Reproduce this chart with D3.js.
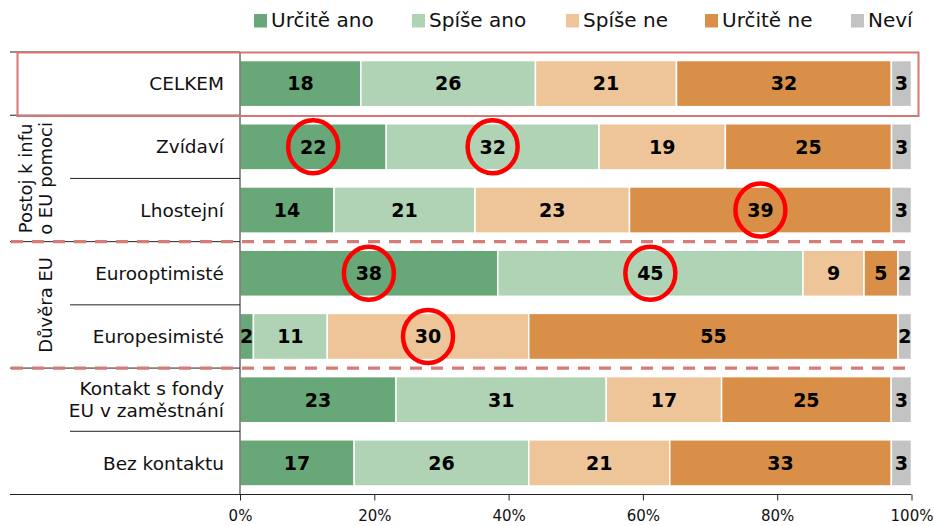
<!DOCTYPE html>
<html>
<head>
<meta charset="utf-8">
<script src="https://cdn.jsdelivr.net/npm/d3@7/dist/d3.min.js"></script>
<style>
  html, body { margin: 0; padding: 0; background: #fff; }
  svg { display: block; font-family: "DejaVu Sans", Verdana, sans-serif; }
</style>
</head>
<body>
<svg id="chart" width="934" height="526"></svg>
<script>
// Row categories (top to bottom); "\n" splits a label over two lines
const categories = [
  "CELKEM",
  "Zvídaví",
  "Lhostejní",
  "Eurooptimisté",
  "Europesimisté",
  "Kontakt s fondy\nEU v zaměstnání",
  "Bez kontaktu"
];

// Answer series, percentages per row
const seriesNames = ["Určitě ano", "Spíše ano", "Spíše ne", "Určitě ne", "Neví"];
const urciteAno = [18, 22, 14, 38, 2, 23, 17];
const spiseAno  = [26, 32, 21, 45, 11, 31, 26];
const spiseNe   = [21, 19, 23, 9, 30, 17, 21];
const urciteNe  = [32, 25, 39, 5, 55, 25, 33];
const nevi      = [3, 3, 3, 2, 2, 3, 3];

const tickValues = [0, 0.2, 0.4, 0.6, 0.8, 1];

// Row groups on the outer category level
const groupLabels = [["Postoj k infu", "o EU pomoci"], ["Důvěra EU"]];
const groupRows = [[1, 2], [3, 4]];

// Circled values: [row index, series index]
const highlights = [[1, 0], [1, 1], [2, 3], [3, 0], [3, 1], [4, 2]];

const colors = ["#68a777", "#afd3b4", "#edc598", "#d98f48", "#c3c3c3"];

const seriesValues = [urciteAno, spiseAno, spiseNe, urciteNe, nevi];
const rows = categories.map((c, i) => {
  const r = { category: c };
  seriesNames.forEach((s, k) => { r[s] = seriesValues[k][i]; });
  return r;
});

const svg = d3.select("#chart");

const x = d3.scaleLinear().domain([0, 1]).range([240, 911.5]);
const y = d3.scaleBand().domain(categories).range([52, 494.5])
  .paddingInner(0.27).paddingOuter(0.135);
const step = y.step();
const rowTop = i => 52 + i * step;

const stack = d3.stack().keys(seriesNames).offset(d3.stackOffsetExpand);
const layers = stack(rows);

// Bars
const layerG = svg.append("g").selectAll("g").data(layers).join("g")
  .attr("fill", (d, i) => colors[i]);
layerG.selectAll("rect").data(d => d).join("rect")
  .attr("x", d => x(d[0]))
  .attr("y", d => y(d.data.category))
  .attr("width", d => x(d[1]) - x(d[0]))
  .attr("height", y.bandwidth())
  .attr("stroke", "#fff")
  .attr("stroke-width", 1.5);

// Value labels
layers.forEach((layer, k) => {
  svg.append("g").selectAll("text").data(layer).join("text")
    .attr("x", d => (x(d[0]) + x(d[1])) / 2)
    .attr("y", d => y(d.data.category) + y.bandwidth() / 2)
    .attr("dy", "0.36em")
    .attr("text-anchor", "middle")
    .attr("font-weight", "bold")
    .attr("font-size", 19)
    .attr("fill", "#000")
    .text(d => d.data[layer.key]);
});

// Axis frame
const axisColor = "#222";
svg.append("line").attr("x1", 240).attr("x2", 240).attr("y1", 52).attr("y2", 494.5)
  .attr("stroke", axisColor).attr("stroke-width", 1);

const xAxis = d3.axisBottom(x).tickValues(tickValues)
  .tickFormat(d3.format(".0%")).tickSize(6).tickSizeOuter(0);
const xg = svg.append("g").attr("transform", "translate(0,494.5)").call(xAxis);
xg.select(".domain").remove();
xg.selectAll(".tick line").attr("stroke", axisColor);
xg.selectAll(".tick text").attr("font-size", 15).attr("fill", "#111")
  .attr("font-family", "DejaVu Sans, Verdana, sans-serif")
  .attr("y", 26).attr("dy", 0);
svg.append("line").attr("x1", 10).attr("x2", 911.5).attr("y1", 494.5).attr("y2", 494.5)
  .attr("stroke", axisColor);

// Category labels
categories.forEach((c, i) => {
  const lines = c.split("\n");
  const cy = y(c) + y.bandwidth() / 2;
  const t = svg.append("text").attr("text-anchor", "end")
    .attr("font-size", 18.5).attr("fill", "#111");
  lines.forEach((ln, j) => {
    t.append("tspan").attr("x", 224)
      .attr("y", cy + (j - (lines.length - 1) / 2) * 22)
      .attr("dy", "0.36em").text(ln);
  });
});

// Inner separators between rows of a group
groupRows.forEach(([a, b]) => {
  svg.append("line").attr("x1", 70).attr("x2", 240)
    .attr("y1", rowTop(b)).attr("y2", rowTop(b)).attr("stroke", axisColor);
});
svg.append("line").attr("x1", 70).attr("x2", 240)
  .attr("y1", rowTop(6)).attr("y2", rowTop(6)).attr("stroke", axisColor);

// Outer separators
[0, 1, 3, 5].forEach(i => {
  svg.append("line").attr("x1", 10).attr("x2", 240)
    .attr("y1", rowTop(i)).attr("y2", rowTop(i)).attr("stroke", axisColor);
});

// Dashed group dividers
[3, 5].forEach(i => {
  svg.append("line").attr("x1", 11).attr("x2", 912)
    .attr("y1", rowTop(i)).attr("y2", rowTop(i))
    .attr("stroke", "#d57b78").attr("stroke-width", 3.3)
    .attr("stroke-dasharray", "12 9");
});

// Group labels (rotated)
groupRows.forEach(([a, b], g) => {
  const cy = (rowTop(a) + rowTop(b + 1)) / 2;
  const lines = groupLabels[g];
  lines.forEach((ln, j) => {
    const cx = lines.length === 1 ? 46 : 26 + j * 20;
    svg.append("text")
      .attr("transform", `translate(${cx},${cy}) rotate(-90)`)
      .attr("text-anchor", "middle").attr("dy", "0.36em")
      .attr("font-size", 18).attr("fill", "#111").text(ln);
  });
});

// Highlight box around the total row
svg.append("rect").attr("x", 17.5).attr("y", 52.5)
  .attr("width", 901).attr("height", 63.5)
  .attr("fill", "none").attr("stroke", "#d67572").attr("stroke-width", 2);

// Circled values
highlights.forEach(([r, k]) => {
  const d = layers[k][r];
  svg.append("ellipse")
    .attr("cx", (x(d[0]) + x(d[1])) / 2)
    .attr("cy", y(d.data.category) + y.bandwidth() / 2)
    .attr("rx", 25).attr("ry", 26.5)
    .attr("fill", "none").attr("stroke", "#ff0000").attr("stroke-width", 4.5);
});

// Legend
const legendX = [254, 412, 566, 705, 851];
seriesNames.forEach((s, k) => {
  const g = svg.append("g").attr("transform", `translate(${legendX[k]},0)`);
  g.append("rect").attr("x", 0).attr("y", 14).attr("width", 13).attr("height", 13.5)
    .attr("fill", colors[k]);
  g.append("text").attr("x", 17).attr("y", 27.3)
    .attr("font-size", 20).attr("fill", "#111").text(s);
});
</script>
</body>
</html>
